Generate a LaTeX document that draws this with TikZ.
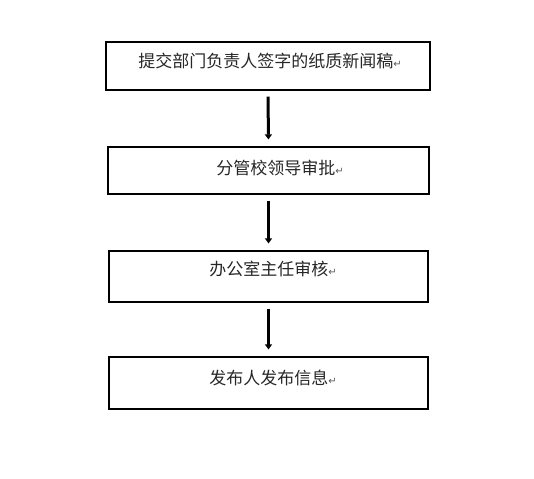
\documentclass[tikz,border=0pt]{standalone}
\usepackage{fontspec}
\newfontfamily\cjk{Noto Sans CJK SC}
\newfontfamily\symb{DejaVu Sans}
\usetikzlibrary{arrows.meta}
\newcommand{\pmark}{{\symb\color{gray!70!black}\fontsize{10}{10}\selectfont ↵}}
\begin{document}
\begin{tikzpicture}[x=1pt,y=-1pt,
  stepbox/.style={draw,line width=1.2pt,inner sep=0pt},
  steptext/.style={font=\cjk\fontsize{17}{20}\selectfont,text=black!85,inner sep=0pt},
  flowarrow/.style={line width=3pt,-{Triangle[width=7pt,length=5pt]},shorten <=6pt,shorten >=7pt}]
\useasboundingbox (0,0) rectangle (534,478);
% boxes
\node[stepbox,minimum width=324pt,minimum height=48pt] (b1) at (268,66) {};
\node[stepbox,minimum width=321pt,minimum height=47pt] (b2) at (268.5,170.5) {};
\node[stepbox,minimum width=319pt,minimum height=51pt] (b3) at (268.5,276.5) {};
\node[stepbox,minimum width=319pt,minimum height=52pt] (b4) at (268.5,383) {};
% texts
\node[steptext] (t1) at (270,61) {提交部门负责人签字的纸质新闻稿\pmark};
\node[steptext] (t2) at (280,168) {分管校领导审批\pmark};
\node[steptext] (t3) at (273,269) {办公室主任审核\pmark};
\node[steptext] (t4) at (273,378) {发布人发布信息\pmark};
% arrows
\draw[flowarrow] (b1.south) -- (b2.north);
\draw[flowarrow] (b2.south) -- (b3.north);
\draw[flowarrow] (b3.south) -- (b4.north);
\end{tikzpicture}
\end{document}
